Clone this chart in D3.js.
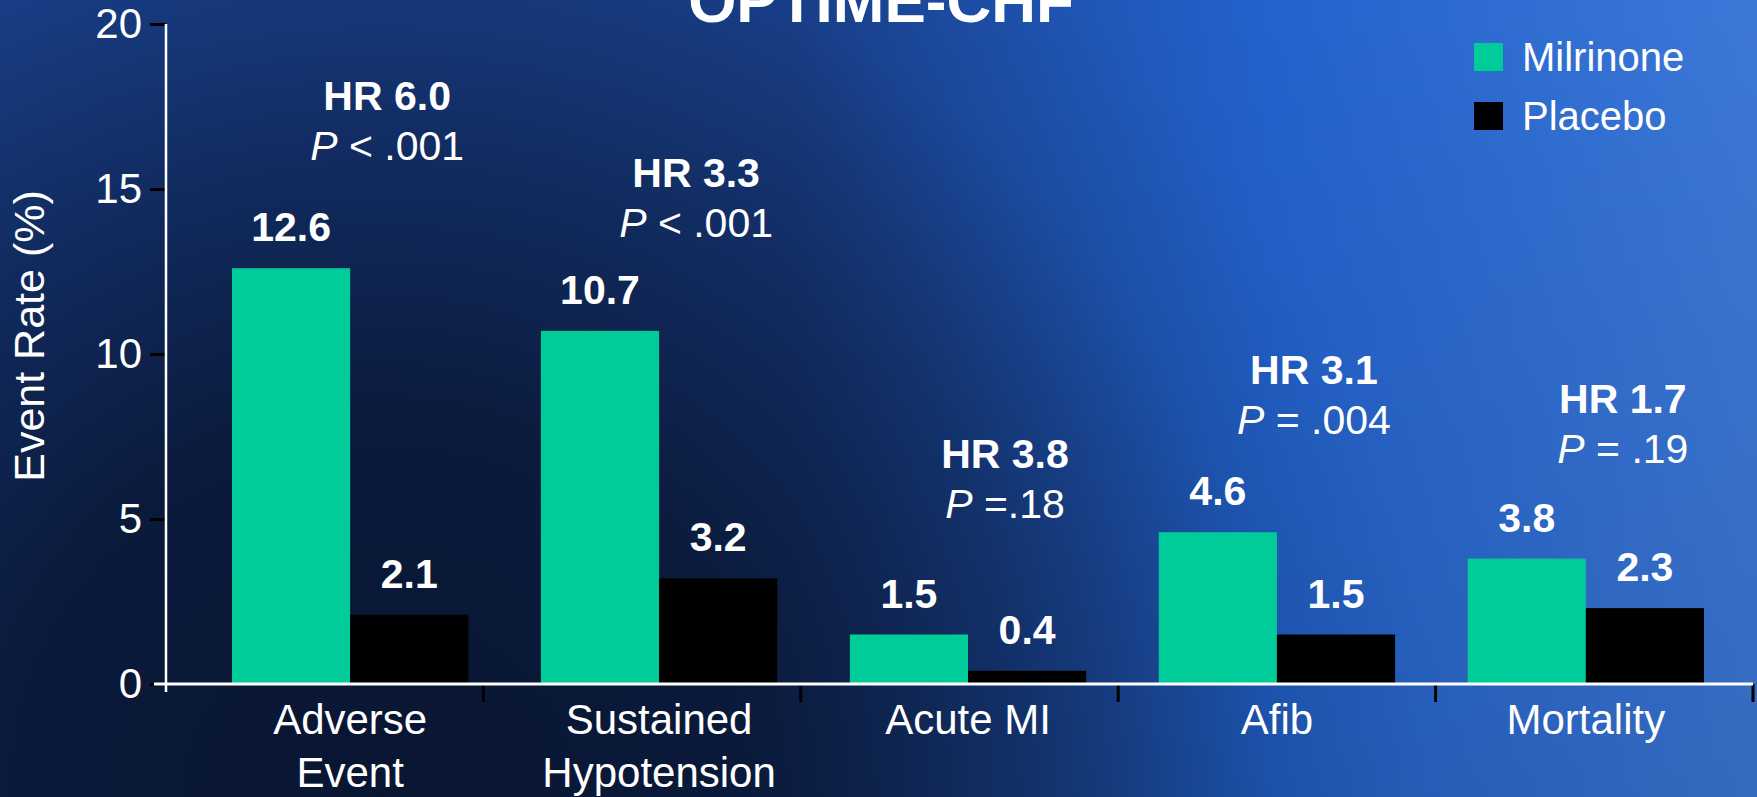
<!DOCTYPE html>
<html><head><meta charset="utf-8">
<script src="https://cdn.jsdelivr.net/npm/d3@7"></script>
<style>html,body{margin:0;padding:0;background:#0c1d40;overflow:hidden;} svg{display:block;}</style>
</head><body><svg id="chart" width="1757" height="797"></svg>
<script>
// ---- data ----
const categories = ["Adverse Event", "Sustained Hypotension", "Acute MI", "Afib", "Mortality"];
const categoryLines = [["Adverse", "Event"], ["Sustained", "Hypotension"], ["Acute MI"], ["Afib"], ["Mortality"]];
const seriesNames = ["Milrinone", "Placebo"];
const milrinone = [12.6, 10.7, 1.5, 4.6, 3.8];
const placebo = [2.1, 3.2, 0.4, 1.5, 2.3];
const hazardRatios = ["6.0", "3.3", "3.8", "3.1", "1.7"];
const pValues = ["< .001", "< .001", "=.18", "= .004", "= .19"];
const hrLevel = [17.4, 15.05, 6.55, 9.1, 8.2]; // annotation anchor (in % units)
const yTicks = [0, 5, 10, 15, 20];
const title = "OPTIME-CHF";
const yTitle = "Event Rate (%)";

// ---- setup ----
const W = 1757, H = 797;
const FONT = "'Liberation Sans', Arial, Helvetica, sans-serif";
const colors = {Milrinone: "#00cc99", Placebo: "#000000"};
const svg = d3.select("#chart");
const defs = svg.append("defs");

const lin = defs.append("linearGradient").attr("id", "bgLin").attr("x1", 0).attr("y1", 0).attr("x2", 1).attr("y2", 0);
[[0, "#1a4290"], [0.45, "#1a4290"], [0.72, "#2262cc"], [1, "#3c78d8"]].forEach(([o, c]) =>
  lin.append("stop").attr("offset", o).attr("stop-color", c));
const vert = defs.append("linearGradient").attr("id", "bgVert").attr("x1", 0).attr("y1", 0).attr("x2", 0).attr("y2", 1);
[[0, "#000", 0], [1, "#000", 0.12]].forEach(([o, c, a]) =>
  vert.append("stop").attr("offset", o).attr("stop-color", c).attr("stop-opacity", a));
const rad = defs.append("radialGradient").attr("id", "bgRad").attr("gradientUnits", "userSpaceOnUse")
  .attr("cx", 380).attr("cy", 790).attr("r", 1050);
[[0, 0.95], [0.35, 0.85], [0.62, 0.45], [0.85, 0.08], [1, 0]].forEach(([o, a]) =>
  rad.append("stop").attr("offset", o).attr("stop-color", "#08142e").attr("stop-opacity", a));

svg.append("rect").attr("width", W).attr("height", H).attr("fill", "url(#bgLin)");
svg.append("rect").attr("width", W).attr("height", H).attr("fill", "url(#bgVert)");
svg.append("rect").attr("width", W).attr("height", H).attr("fill", "url(#bgRad)");

// ---- scales ----
const y = d3.scaleLinear().domain([0, 20]).range([684, 24]);
const xAxisBand = d3.scaleBand().domain(categories).range([166, 1753]);
const x0 = d3.scaleBand().domain(categories).range([232, 1704]).paddingInner(0.235).paddingOuter(0);
const x1 = d3.scaleBand().domain(seriesNames).range([0, x0.bandwidth()]);

const rows = categories.map((c, i) => ({cat: c, i, Milrinone: milrinone[i], Placebo: placebo[i]}));

// ---- bars ----
const groups = svg.append("g").selectAll("g").data(rows).join("g")
  .attr("transform", d => `translate(${x0(d.cat)},0)`);
groups.selectAll("rect").data(d => seriesNames.map(s => ({s, v: d[s]}))).join("rect")
  .attr("x", d => x1(d.s)).attr("width", x1.bandwidth())
  .attr("y", d => y(d.v)).attr("height", d => y(0) - y(d.v))
  .attr("fill", d => colors[d.s]);
groups.selectAll("text.val").data(d => seriesNames.map(s => ({s, v: d[s]}))).join("text")
  .attr("class", "val")
  .attr("x", d => x1(d.s) + x1.bandwidth() / 2).attr("y", d => y(d.v) - 27)
  .attr("text-anchor", "middle").attr("fill", "#fff")
  .style("font-family", FONT).style("font-weight", "bold").style("font-size", "41px")
  .text(d => d.v.toFixed(1));

// ---- axes ----
const yAxis = d3.axisLeft(y).tickValues(yTicks).tickSize(16).tickPadding(8);
const gy = svg.append("g").attr("transform", "translate(166,0)").call(yAxis);
gy.select(".domain").remove();
gy.selectAll(".tick line").attr("stroke", "#000").attr("stroke-width", 3);
gy.selectAll(".tick text").attr("fill", "#fff").style("font-family", FONT).style("font-size", "42px");

const xAxis = d3.axisBottom(xAxisBand).tickSize(18).tickFormat("");
const gx = svg.append("g").attr("transform", `translate(0,${y(0)})`).call(xAxis);
gx.select(".domain").remove();
gx.selectAll(".tick").attr("transform", d => `translate(${xAxisBand(d) + xAxisBand.bandwidth()},0)`);
gx.selectAll(".tick line").attr("stroke", "#000").attr("stroke-width", 3);

// axis lines (white)
svg.append("line").attr("x1", 154).attr("x2", 1753).attr("y1", y(0)).attr("y2", y(0))
  .attr("stroke", "#fff").attr("stroke-width", 3);
svg.append("line").attr("x1", 166).attr("x2", 166).attr("y1", y(20)).attr("y2", y(0) + 8)
  .attr("stroke", "#fff").attr("stroke-width", 2.5);

// category labels
const catLab = svg.append("g").selectAll("text").data(rows).join("text")
  .attr("text-anchor", "middle").attr("fill", "#fff")
  .style("font-family", FONT).style("font-size", "42px")
  .attr("transform", d => `translate(${x0(d.cat) + x0.bandwidth() / 2},734)`);
catLab.selectAll("tspan").data(d => categoryLines[d.i]).join("tspan")
  .attr("x", 0).attr("y", (d, j) => j * 53).text(d => d);

// y title
svg.append("text").attr("transform", "translate(44,336) rotate(-90)")
  .attr("text-anchor", "middle").attr("fill", "#fff")
  .style("font-family", FONT).style("font-size", "43px").text(yTitle);

// title
svg.append("text").attr("x", 881).attr("y", 22).attr("text-anchor", "middle").attr("fill", "#fff")
  .style("font-family", FONT).style("font-weight", "bold").style("font-size", "62px").text(title);

// HR annotations
const ann = svg.append("g").selectAll("g").data(rows).join("g")
  .attr("transform", d => `translate(${x0(d.cat) + x0.bandwidth() / 2 + 37},${y(hrLevel[d.i])})`);
ann.append("text").attr("text-anchor", "middle").attr("fill", "#fff")
  .style("font-family", FONT).style("font-weight", "bold").style("font-size", "41px")
  .text(d => "HR " + hazardRatios[d.i]);
const pt = ann.append("text").attr("y", 50).attr("text-anchor", "middle").attr("fill", "#fff")
  .style("font-family", FONT).style("font-size", "41px");
pt.append("tspan").style("font-style", "italic").text("P");
pt.append("tspan").text(d => " " + pValues[d.i]);

// legend
const leg = svg.append("g").selectAll("g").data(seriesNames).join("g")
  .attr("transform", (d, i) => `translate(1474,${43 + i * 59})`);
leg.append("rect").attr("width", 29).attr("height", 28).attr("fill", d => colors[d]);
leg.append("text").attr("x", 48).attr("y", 28).attr("fill", "#fff")
  .style("font-family", FONT).style("font-size", "40px").text(d => d);
</script></body></html>
